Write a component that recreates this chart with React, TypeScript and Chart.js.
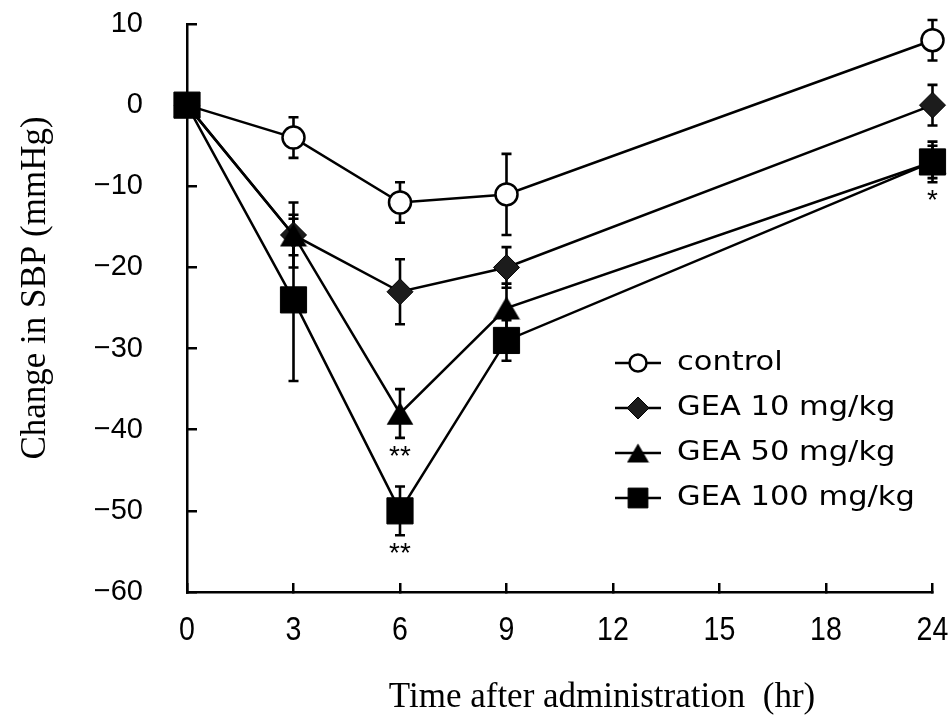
import React, { useEffect, useRef } from 'react';
import { Chart, registerables } from 'chart.js';
import { drawPoint } from 'chart.js/helpers';

Chart.register(...registerables);

// Time axis (hr): equally spaced category ticks, the last one jumps to 24 h
const timeLabels = ['0', '3', '6', '9', '12', '15', '18', '24'];
const sampleTimes = ['0', '3', '6', '9', '24'];

// Change in systolic blood pressure (mmHg), mean and error
const seriesNames = ['control', 'GEA 10 mg/kg', 'GEA 50 mg/kg', 'GEA 100 mg/kg'];
const controlMean = [0, -4, -12, -11, 8];
const controlErr = [0, 2.5, 2.5, 5, 2.5];
const gea10Mean = [0, -16, -23, -20, 0];
const gea10Err = [0, 4, 4, 2.5, 2.5];
const gea50Mean = [0, -16, -38, -25, -7];
const gea50Err = [0, 2.5, 3, 3, 2];
const gea100Mean = [0, -24, -50, -29, -7];
const gea100Err = [0, 10, 3, 2.5, 2.5];

// Significance marks under each point
const controlSig = ['', '', '', '', ''];
const gea10Sig = ['', '', '', '', ''];
const gea50Sig = ['', '', '**', '', ''];
const gea100Sig = ['', '', '**', '', '*'];

const yMin = -60;
const yMax = 10;
const yStep = 10;

const xTitle = 'Time after administration  (hr)';
const yTitle = 'Change in SBP (mmHg)';

const SERIF = '"Liberation Serif", "Times New Roman", serif';
const SANS = '"Liberation Sans", Arial, sans-serif';
const LEGEND_FONT = '"DejaVu Sans", "Noto Sans", sans-serif';

function makeTriangle(w: number, h: number): HTMLCanvasElement {
  const c = document.createElement('canvas');
  c.width = w;
  c.height = h;
  const g = c.getContext('2d')!;
  g.beginPath();
  g.moveTo(w / 2, 0.5);
  g.lineTo(w - 0.5, h - 0.5);
  g.lineTo(0.5, h - 0.5);
  g.closePath();
  g.fillStyle = '#000';
  g.fill();
  return c;
}

const errorBarPlugin = {
  id: 'errorBars',
  beforeDatasetsDraw(chart: any) {
    const { ctx } = chart;
    const yScale = chart.scales.y;
    ctx.save();
    ctx.strokeStyle = '#000';
    ctx.lineWidth = 2.6;
    chart.data.datasets.forEach((ds: any, i: number) => {
      const meta = chart.getDatasetMeta(i);
      ds.errors.forEach((e: number, j: number) => {
        if (!e) return;
        const pt = meta.data[j];
        const v = ds.data[j].y;
        const yt = yScale.getPixelForValue(v + e);
        const yb = yScale.getPixelForValue(v - e);
        ctx.beginPath();
        ctx.moveTo(pt.x, yt);
        ctx.lineTo(pt.x, yb);
        ctx.moveTo(pt.x - 5, yt);
        ctx.lineTo(pt.x + 5, yt);
        ctx.moveTo(pt.x - 5, yb);
        ctx.lineTo(pt.x + 5, yb);
        ctx.stroke();
      });
    });
    ctx.restore();
  },
  afterDatasetsDraw(chart: any) {
    const { ctx } = chart;
    const yScale = chart.scales.y;
    ctx.save();
    ctx.fillStyle = '#000';
    ctx.font = `28px ${SANS}`;
    ctx.textAlign = 'center';
    ctx.textBaseline = 'alphabetic';
    chart.data.datasets.forEach((ds: any, i: number) => {
      const meta = chart.getDatasetMeta(i);
      ds.marks.forEach((m: string, j: number) => {
        if (!m) return;
        const pt = meta.data[j];
        const v = ds.data[j].y;
        const yb = yScale.getPixelForValue(v - ds.errors[j]);
        ctx.fillText(m, pt.x, yb + 27);
      });
    });
    ctx.restore();
  },
};

const decorPlugin = {
  id: 'decor',
  afterDraw(chart: any) {
    const { ctx, chartArea } = chart;
    const xScale = chart.scales.x;
    ctx.save();
    ctx.fillStyle = '#000';

    // x tick labels in a condensed face
    ctx.font = `34px ${SANS}`;
    ctx.textAlign = 'center';
    ctx.textBaseline = 'alphabetic';
    xScale.ticks.forEach((t: any, i: number) => {
      const px = xScale.getPixelForTick(i);
      ctx.save();
      ctx.translate(px, chartArea.bottom + 48);
      ctx.scale(0.84, 1);
      ctx.fillText(String(xScale.getLabelForValue(t.value)), 0, 0);
      ctx.restore();
    });

    // axis titles
    ctx.font = `35px ${SERIF}`;
    ctx.textAlign = 'center';
    ctx.textBaseline = 'alphabetic';
    ctx.fillText(xTitle, chartArea.left + 415, chartArea.bottom + 115);
    ctx.save();
    ctx.translate(36, (chartArea.top + chartArea.bottom) / 2 - 20);
    ctx.rotate(-Math.PI / 2);
    ctx.textBaseline = 'middle';
    ctx.fillText(yTitle, 0, 0);
    ctx.restore();

    // legend inside the plot
    const lx = chartArea.left + 428;
    const ly = chartArea.top + 339;
    const rowH = 45;
    chart.data.datasets.forEach((ds: any, i: number) => {
      const y = ly + i * rowH;
      ctx.strokeStyle = '#000';
      ctx.lineWidth = 2.5;
      ctx.beginPath();
      ctx.moveTo(lx, y);
      ctx.lineTo(lx + 46, y);
      ctx.stroke();
      const cx = lx + 23;
      if (ds.legendStyle === 'triangle') {
        const img = ds.legendImage;
        ctx.drawImage(img, cx - img.width / 2, y - img.height / 2);
      } else {
        ctx.fillStyle = ds.pointBackgroundColor;
        ctx.strokeStyle = '#000';
        ctx.lineWidth = ds.pointBorderWidth;
        drawPoint(ctx, { pointStyle: ds.legendStyle, rotation: 0, radius: ds.legendRadius, borderWidth: ds.pointBorderWidth }, cx, y);
      }
      ctx.fillStyle = '#000';
      ctx.font = `27px ${LEGEND_FONT}`;
      ctx.textAlign = 'left';
      ctx.textBaseline = 'middle';
      ctx.save();
      ctx.translate(lx + 62, y);
      ctx.scale(1.13, 1);
      ctx.fillText(ds.label, 0, 0);
      ctx.restore();
    });
    ctx.restore();
  },
};

export default function App() {
  const canvasRef = useRef<HTMLCanvasElement | null>(null);

  useEffect(() => {
    const canvas = canvasRef.current;
    if (!canvas) return;
    const tri = makeTriangle(28, 24);
    const triSmall = makeTriangle(23, 20);
    const toPoints = (means: number[]) => sampleTimes.map((t, i) => ({ x: t, y: means[i] }));

    const common = {
      borderColor: '#000',
      borderWidth: 2.5,
      pointBorderColor: '#000',
      tension: 0,
      clip: false as any,
    };

    const chart = new Chart(canvas, {
      type: 'line',
      data: {
        labels: timeLabels,
        datasets: [
          {
            ...common,
            label: seriesNames[0],
            data: toPoints(controlMean),
            errors: controlErr,
            marks: controlSig,
            pointStyle: 'circle',
            pointRadius: 11,
            pointBackgroundColor: '#fff',
            pointBorderWidth: 2.5,
            legendStyle: 'circle',
            legendRadius: 8.5,
            order: 3,
          } as any,
          {
            ...common,
            label: seriesNames[1],
            data: toPoints(gea10Mean),
            errors: gea10Err,
            marks: gea10Sig,
            pointStyle: 'rectRot',
            pointRadius: 13,
            pointBackgroundColor: '#1c1c1c',
            pointBorderWidth: 1,
            legendStyle: 'rectRot',
            legendRadius: 11,
            order: 2,
          } as any,
          {
            ...common,
            label: seriesNames[2],
            data: toPoints(gea50Mean),
            errors: gea50Err,
            marks: gea50Sig,
            pointStyle: tri,
            pointRadius: 14,
            pointBackgroundColor: '#000',
            pointBorderWidth: 1,
            legendStyle: 'triangle',
            legendImage: triSmall,
            order: 1,
          } as any,
          {
            ...common,
            label: seriesNames[3],
            data: toPoints(gea100Mean),
            errors: gea100Err,
            marks: gea100Sig,
            pointStyle: 'rect',
            pointRadius: 18.5,
            pointBackgroundColor: '#000',
            pointBorderWidth: 1,
            legendStyle: 'rect',
            legendRadius: 14,
            order: 0,
          } as any,
        ],
      },
      options: {
        responsive: false,
        animation: false,
        events: [],
        layout: { padding: { left: 0, right: 16, top: 24, bottom: 0 } },
        plugins: {
          legend: { display: false },
          tooltip: { enabled: false },
        },
        scales: {
          x: {
            type: 'category',
            offset: false,
            grid: {
              drawOnChartArea: false,
              drawTicks: true,
              tickLength: -9,
              lineWidth: 2.5,
              color: '#000',
            },
            border: { display: true, color: '#000', width: 2.5 },
            ticks: {
              display: false,
              autoSkip: false,
              maxRotation: 0,
            },
            afterFit: (s: any) => {
              s.height = 126;
              s.paddingLeft = 0;
              s.paddingRight = 0;
            },
          },
          y: {
            type: 'linear',
            min: yMin,
            max: yMax,
            grid: {
              drawOnChartArea: false,
              drawTicks: true,
              tickLength: -10,
              lineWidth: 2.5,
              color: '#000',
            },
            border: { display: true, color: '#000', width: 2.5 },
            ticks: {
              stepSize: yStep,
              color: '#000',
              font: { family: SANS, size: 29 },
              padding: 54,
              callback: (v: any) => (Number(v) < 0 ? '\u2212' + Math.abs(Number(v)) : String(v)),
            },
            afterFit: (s: any) => {
              s.width = 187;
              s.paddingTop = 0;
              s.paddingBottom = 0;
            },
          },
        },
      },
      plugins: [errorBarPlugin, decorPlugin],
    } as any);

    return () => chart.destroy();
  }, []);

  return (
    <div style={{ position: 'absolute', left: 0, top: 0, width: 952, height: 718, background: '#fff' }}>
      <canvas ref={canvasRef} width={952} height={718} />
    </div>
  );
}
